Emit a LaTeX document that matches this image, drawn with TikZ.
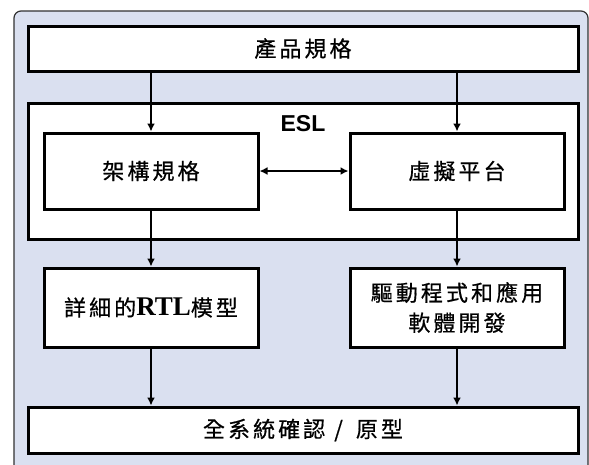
\documentclass[tikz,border=0pt]{standalone}
\usepackage{fontspec}
\newfontfamily\cjk[LetterSpace=14,FakeBold=0.6]{Noto Sans CJK TC}
\newfontfamily\rtlfont{Liberation Serif}
\newfontfamily\eslfont{Liberation Sans}
\usetikzlibrary{arrows.meta}
\definecolor{bgblue}{RGB}{218,224,240}
\definecolor{frame}{RGB}{50,50,50}
\begin{document}
\begin{tikzpicture}[x=1pt,y=-1pt,
  box/.style={draw=black, line width=3pt, fill=white, inner sep=0pt, align=center,
    font=\cjk\fontsize{22}{30}\selectfont},
  arr/.style={line width=2pt, -{Latex[length=8pt,width=8pt]}},
  darr/.style={line width=2pt, {Latex[length=8pt,width=8pt]}-{Latex[length=8pt,width=8pt]}}]
\clip (0,0) rectangle (589,464);
\useasboundingbox (0,0) rectangle (589,464);
\fill[white] (0,0) rectangle (589,464);
\draw[frame, line width=1.2pt, fill=bgblue, rounded corners=7pt] (14,11) rectangle (588,480);
\node[box, minimum width=550pt, minimum height=45pt] (prod) at (303,48.5) {產品規格};
\node[box, minimum width=550pt, minimum height=136pt] (esl) at (303,171) {};
\node[font=\eslfont\bfseries\fontsize{23}{26}\selectfont, inner sep=0pt] (esllabel) at (303,124) {ESL};
\node[box, minimum width=214pt, minimum height=76pt] (arch) at (151,171) {架構規格};
\node[box, minimum width=214pt, minimum height=76pt] (vp) at (457,171) {虛擬平台};
\node[box, minimum width=214pt, minimum height=79pt] (rtl) at (151,307.5) {詳細的{\rtlfont\bfseries\fontsize{27}{30}\selectfont RTL}模型};
\node[box, minimum width=214pt, minimum height=79pt] (drv) at (457,307.5) {驅動程式和應用\\軟體開發};
\node[box, minimum width=550pt, minimum height=46pt] (sys) at (303,430) {全系統確認\hspace{9pt}/\hspace{13pt}原型};
\draw[arr] (prod.south -| arch.north) -- (arch.north);
\draw[arr] (prod.south -| vp.north) -- (vp.north);
\draw[darr] (arch.east) -- (vp.west);
\draw[arr] (arch.south) -- (rtl.north);
\draw[arr] (vp.south) -- (drv.north);
\draw[arr] (rtl.south) -- (sys.north -| rtl.south);
\draw[arr] (drv.south) -- (sys.north -| drv.south);
\end{tikzpicture}
\end{document}
